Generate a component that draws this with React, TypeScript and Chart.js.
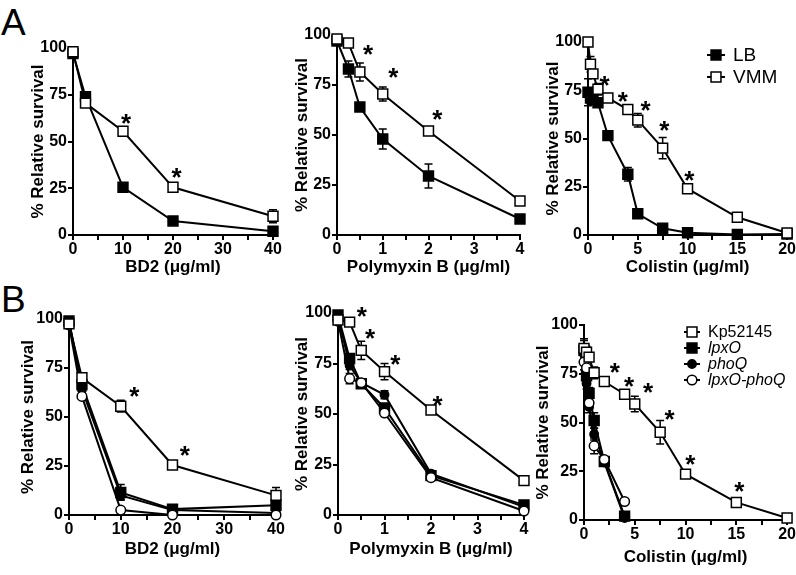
import React, { useEffect, useRef } from 'react';
import { Chart, registerables } from 'chart.js';
Chart.register(...registerables);

const FONT = '"Liberation Sans", Arial, Helvetica, sans-serif';

// ---------------- Panel A: LB vs VMM ----------------
const bd2ConcA = [0, 2.5, 10, 20, 40];
const bd2LB = [97, 74, 25.5, 7.5, 2];
const bd2LBErr = [0, 0, 1, 1, 0.5];
const bd2VMM = [98, 70.5, 55.5, 25.5, 10];
const bd2VMMErr = [0, 0, 2, 1, 3.5];
const bd2StarsA = [[10.6, 62], [20.7, 33]];

const pmbConcA = [0, 0.25, 0.5, 1, 2, 4];
const pmbLB = [97, 83, 64, 48, 29.5, 8];
const pmbLBErr = [0, 4, 1, 5, 6, 1];
const pmbVMM = [98, 96, 81.5, 70.5, 52, 17];
const pmbVMMErr = [0, 0, 4.5, 3.5, 1, 1];
const pmbStarsA = [[0.68, 92.5], [1.23, 80.8], [2.19, 60]];

const colConcA = [0, 0.25, 0.5, 1, 2, 4, 5, 7.5, 10, 15, 20];
const colLB = [74, 71, 70, 68.5, 51.5, 31.5, 11, 3.5, 1.2, 0.3, 0.5];
const colLBErr = [7, 3, 2, 2, 1, 3.5, 1, 1, 0.5, 0, 0];
const colVMM = [100, 88.5, 83.5, 75.5, 71, 65, 59.5, 45, 24, 9.2, 1];
const colVMMErr = [0, 4, 1, 3, 1, 1.5, 3.5, 5.5, 1.5, 1, 0.5];
const colStarsA = [[1.67, 80], [3.5, 71.3], [5.77, 67], [7.67, 56.5], [10.17, 30.4]];

// ---------------- Panel B: strains ----------------
const bd2ConcB = [0, 2.5, 10, 20, 40];
const bd2Kp = [97.5, 70, 55.5, 25.5, 10];
const bd2KpErr = [0, 1, 3, 1, 4];
const bd2LpxO = [99, 66.5, 11.5, 3, 5];
const bd2LpxOErr = [0, 2, 4, 1, 1];
const bd2PhoQ = [99, 64, 10, 2.5, 1];
const bd2PhoQErr = [0, 1, 2, 0.5, 0.5];
const bd2Dbl = [97, 60.5, 2.5, 0, 0];
const bd2DblErr = [0, 1, 1, 0, 0];
const bd2StarsB = [[12.6, 62.7], [22.4, 32.6]];

const pmbConcB = [0, 0.25, 0.5, 1, 2, 4];
const pmbKp = [96.5, 95.5, 81.5, 71, 52, 17];
const pmbKpErr = [0, 2, 4.5, 4, 1, 1];
const pmbLpxO = [99, 77.5, 65, 53, 19.5, 5];
const pmbLpxOErr = [0, 2, 1, 2, 1, 1];
const pmbPhoQ = [98.5, 74, 65.5, 59.5, 20.5, 4];
const pmbPhoQErr = [0, 2, 1, 2, 1, 0.5];
const pmbDbl = [96, 67.5, 65.5, 50.5, 18.5, 2];
const pmbDblErr = [0, 2.5, 0, 1, 0.5, 0];
const pmbStarsB = [[0.51, 100.6], [0.69, 89.4], [1.23, 76.7], [2.14, 56.4]];

const colConcKp = [0, 0.25, 0.5, 1, 2, 4, 5, 7.5, 10, 15, 20];
const colKp = [88, 86, 83.5, 75.5, 71, 64.5, 59.5, 45, 23.5, 9, 1];
const colKpErr = [5, 3, 2, 3, 1, 1, 4, 6, 1.5, 1, 0.5];
const colConcMut = [0, 0.25, 0.5, 1, 2, 4];
const colLpxO = [87, 74, 65, 51, 30, 2];
const colLpxOErr = [5, 3, 3, 4, 1, 1];
const colPhoQ = [85, 70, 58, 44, 29.5, 1];
const colPhoQErr = [4, 3, 3, 3, 1, 1];
const colDbl = [81, 78, 60, 38, 31, 9.5];
const colDblErr = [4, 3, 3, 4, 1, 1];
const colStarsB = [[3.04, 77.8], [4.44, 70.9], [6.3, 67.5], [8.43, 53.8], [10.46, 30.8], [15.3, 17.1]];

const yTicks = [0, 25, 50, 75, 100];

const TITLE_SIZE = 17;
const TITLE_HALF = (TITLE_SIZE * 1.2) / 2;

type Kind = 'sqOpen' | 'sqFill' | 'ciFill' | 'ciOpen';
const MARK: Record<Kind, { shape: string; r: number; fill: string }> = {
  sqOpen: { shape: 'rect', r: 7, fill: '#ffffff' },
  sqFill: { shape: 'rect', r: 7, fill: '#000000' },
  ciFill: { shape: 'circle', r: 4.2, fill: '#000000' },
  ciOpen: { shape: 'circle', r: 4.8, fill: '#ffffff' },
};

type Series = { label: string; xs: number[]; ys: number[]; err: number[]; kind: Kind; order: number; italic?: boolean };
type Legend = { x: number; y: number; dy: number; tx: number; half: number; size: number };
type Panel = {
  id: string; ax: number; bx: number; ty: number; by: number; ytx: number; xty: number; padR: number;
  xMax: number; xStep: number; xLabelEvery: number; xTitle: string;
  series: Series[]; stars: number[][]; legend?: Legend;
};

const seriesA = (xs: number[], lb: number[], lbE: number[], vmm: number[], vmmE: number[]): Series[] => [
  { label: 'LB', xs, ys: lb, err: lbE, kind: 'sqFill', order: 1 },
  { label: 'VMM', xs, ys: vmm, err: vmmE, kind: 'sqOpen', order: 0 },
];
const seriesB = (xk: number[], xm: number[], kp: number[], kpE: number[], a: number[], aE: number[], b: number[], bE: number[], c: number[], cE: number[]): Series[] => [
  { label: 'Kp52145', xs: xk, ys: kp, err: kpE, kind: 'sqOpen', order: 0 },
  { label: 'lpxO', xs: xm, ys: a, err: aE, kind: 'sqFill', order: 3, italic: true },
  { label: 'phoQ', xs: xm, ys: b, err: bE, kind: 'ciFill', order: 2, italic: true },
  { label: 'lpxO-phoQ', xs: xm, ys: c, err: cE, kind: 'ciOpen', order: 1, italic: true },
];

const UG = 'BD2 (\u03bcg/ml)';
const panels: Panel[] = [
  { id: 'a1', ax: 73, bx: 273, ty: 48, by: 235, ytx: 38, xty: 268, padR: 12, xMax: 40, xStep: 5, xLabelEvery: 10, xTitle: UG,
    series: seriesA(bd2ConcA, bd2LB, bd2LBErr, bd2VMM, bd2VMMErr), stars: bd2StarsA },
  { id: 'a2', ax: 337, bx: 520, ty: 35, by: 235, ytx: 302, xty: 268, padR: 12, xMax: 4, xStep: 0.5, xLabelEvery: 1, xTitle: 'Polymyxin B (\u03bcg/ml)',
    series: seriesA(pmbConcA, pmbLB, pmbLBErr, pmbVMM, pmbVMMErr), stars: pmbStarsA },
  { id: 'a3', ax: 588, bx: 788, ty: 42, by: 235, ytx: 553, xty: 268, padR: 8, xMax: 20, xStep: 2.5, xLabelEvery: 5, xTitle: 'Colistin (\u03bcg/ml)',
    series: seriesA(colConcA, colLB, colLBErr, colVMM, colVMMErr), stars: colStarsA,
    legend: { x: 716, y: 55, dy: 22, tx: 733, half: 9, size: 19 } },
  { id: 'b1', ax: 69, bx: 276, ty: 319, by: 515, ytx: 28, xty: 550, padR: 12, xMax: 40, xStep: 5, xLabelEvery: 10, xTitle: UG,
    series: seriesB(bd2ConcB, bd2ConcB, bd2Kp, bd2KpErr, bd2LpxO, bd2LpxOErr, bd2PhoQ, bd2PhoQErr, bd2Dbl, bd2DblErr), stars: bd2StarsB },
  { id: 'b2', ax: 338, bx: 524, ty: 313, by: 515, ytx: 302, xty: 550, padR: 10, xMax: 4, xStep: 0.5, xLabelEvery: 1, xTitle: 'Polymyxin B (\u03bcg/ml)',
    series: seriesB(pmbConcB, pmbConcB, pmbKp, pmbKpErr, pmbLpxO, pmbLpxOErr, pmbPhoQ, pmbPhoQErr, pmbDbl, pmbDblErr), stars: pmbStarsB },
  { id: 'b3', ax: 584, bx: 788, ty: 325, by: 520, ytx: 543, xty: 558, padR: 8, xMax: 20, xStep: 2.5, xLabelEvery: 5, xTitle: 'Colistin (\u03bcg/ml)',
    series: seriesB(colConcKp, colConcMut, colKp, colKpErr, colLpxO, colLpxOErr, colPhoQ, colPhoQErr, colDbl, colDblErr), stars: colStarsB,
    legend: { x: 692, y: 332, dy: 16, tx: 708, half: 8, size: 16 } },
];

function geom(p: Panel) {
  const cl = Math.round(p.ytx - TITLE_HALF);
  const ct = p.ty - 14;
  const cw = p.bx + p.padR - cl;
  const ch = Math.round(p.xty + TITLE_HALF) - ct;
  const wy = p.ax - cl;
  const hx = ch - (p.by - ct);
  return { cl, ct, cw, ch, wy, hx };
}

function drawMarker(ctx: CanvasRenderingContext2D, kind: Kind, x: number, y: number) {
  const m = MARK[kind];
  ctx.beginPath();
  if (m.shape === 'rect') {
    const h = Math.SQRT1_2 * m.r;
    ctx.rect(x - h, y - h, 2 * h, 2 * h);
  } else {
    ctx.arc(x, y, m.r, 0, Math.PI * 2);
  }
  ctx.fillStyle = m.fill;
  ctx.fill();
  ctx.lineWidth = 1.5;
  ctx.strokeStyle = '#000';
  ctx.stroke();
}

const errorBarPlugin = {
  id: 'errbars',
  beforeDatasetsDraw(chart: any) {
    const { ctx, scales } = chart;
    const x = scales.x, y = scales.y;
    ctx.save();
    ctx.strokeStyle = '#000';
    ctx.lineWidth = 1.5;
    chart.data.datasets.forEach((ds: any) => {
      const errs: number[] = ds.errors || [];
      ds.data.forEach((pt: any, i: number) => {
        const e = errs[i];
        if (!e) return;
        const px = x.getPixelForValue(pt.x);
        const y1 = y.getPixelForValue(pt.y + e);
        const y2 = y.getPixelForValue(Math.max(0, pt.y - e));
        ctx.beginPath();
        ctx.moveTo(px, y1); ctx.lineTo(px, y2);
        ctx.moveTo(px - 4, y1); ctx.lineTo(px + 4, y1);
        ctx.moveTo(px - 4, y2); ctx.lineTo(px + 4, y2);
        ctx.stroke();
      });
    });
    ctx.restore();
  },
};

function starPlugin(stars: number[][]) {
  return {
    id: 'stars',
    afterDatasetsDraw(chart: any) {
      const { ctx, scales } = chart;
      ctx.save();
      ctx.font = `bold 26px ${FONT}`;
      ctx.textAlign = 'center';
      ctx.textBaseline = 'alphabetic';
      ctx.fillStyle = '#000';
      const m = ctx.measureText('*');
      const off = (m.actualBoundingBoxAscent - m.actualBoundingBoxDescent) / 2;
      stars.forEach(([sx, sy]) => {
        ctx.fillText('*', scales.x.getPixelForValue(sx), scales.y.getPixelForValue(sy) + off);
      });
      ctx.restore();
    },
  };
}

function legendPlugin(series: Series[], lg: Legend, cl: number, ct: number) {
  return {
    id: 'customLegend',
    afterDraw(chart: any) {
      const ctx: CanvasRenderingContext2D = chart.ctx;
      ctx.save();
      series.forEach((s, i) => {
        const x = lg.x - cl;
        const y = lg.y + i * lg.dy - ct;
        ctx.beginPath();
        ctx.moveTo(x - lg.half, y);
        ctx.lineTo(x + lg.half, y);
        ctx.lineWidth = 2;
        ctx.strokeStyle = '#000';
        ctx.stroke();
        drawMarker(ctx, s.kind, x, y);
        ctx.font = `${s.italic ? 'italic ' : ''}${lg.size}px ${FONT}`;
        ctx.fillStyle = '#000';
        ctx.textAlign = 'left';
        ctx.textBaseline = 'middle';
        ctx.fillText(s.label, lg.tx - cl, y + 1);
      });
      ctx.restore();
    },
  };
}

function PanelChart({ p }: { p: Panel }) {
  const ref = useRef<HTMLCanvasElement>(null);
  const g = geom(p);
  useEffect(() => {
    const datasets = p.series.map((s) => ({
      label: s.label,
      data: s.xs.map((x, j) => ({ x, y: s.ys[j] })),
      errors: s.err,
      borderColor: '#000',
      borderWidth: 2,
      pointStyle: MARK[s.kind].shape,
      pointRadius: MARK[s.kind].r,
      pointBackgroundColor: MARK[s.kind].fill,
      pointBorderColor: '#000',
      pointBorderWidth: 1.5,
      fill: false,
      tension: 0,
      clip: false,
      order: s.order,
    }));
    const tickFont = { family: FONT, size: 16, weight: 'bold' as const };
    const titleFont = { family: FONT, size: TITLE_SIZE, weight: 'bold' as const };
    const plugins: any[] = [errorBarPlugin, starPlugin(p.stars)];
    if (p.legend) plugins.push(legendPlugin(p.series, p.legend, g.cl, g.ct));
    const chart = new Chart(ref.current!, {
      type: 'line',
      data: { datasets: datasets as any },
      options: {
        animation: false,
        responsive: false,
        maintainAspectRatio: false,
        events: [],
        layout: { padding: { left: 0, top: 14, right: p.padR, bottom: 0 } },
        plugins: { legend: { display: false }, tooltip: { enabled: false } },
        scales: {
          x: {
            type: 'linear',
            min: 0,
            max: p.xMax,
            ticks: {
              stepSize: p.xStep,
              autoSkip: false,
              maxRotation: 0,
              padding: 0,
              color: '#000',
              font: tickFont,
              callback: (v: any) => {
                const r = Number(v) / p.xLabelEvery;
                return Math.abs(r - Math.round(r)) < 1e-6 ? String(Number(v)) : '';
              },
            },
            grid: { display: true, drawOnChartArea: false, drawTicks: true, tickLength: 5, color: '#000', lineWidth: 2 },
            border: { display: true, color: '#000', width: 2 },
            title: { display: true, text: p.xTitle, color: '#000', font: titleFont, padding: 0 },
            afterFit: (s: any) => { s.height = g.hx; },
          },
          y: {
            type: 'linear',
            min: 0,
            max: 100,
            afterBuildTicks: (s: any) => { s.ticks = yTicks.map((v) => ({ value: v })); },
            ticks: { padding: 1, color: '#000', font: tickFont },
            grid: { display: true, drawOnChartArea: false, drawTicks: true, tickLength: 5, color: '#000', lineWidth: 2 },
            border: { display: true, color: '#000', width: 2 },
            title: { display: true, text: '% Relative survival', color: '#000', font: titleFont, padding: 0 },
            afterFit: (s: any) => { s.width = g.wy; },
          },
        },
      } as any,
      plugins,
    });
    return () => chart.destroy();
  }, []);
  return (
    <canvas
      ref={ref}
      width={g.cw}
      height={g.ch}
      style={{ position: 'absolute', left: g.cl, top: g.ct, width: g.cw, height: g.ch }}
    />
  );
}

export default function App() {
  const labelStyle: React.CSSProperties = {
    position: 'absolute',
    fontFamily: FONT,
    fontSize: 37,
    lineHeight: '37px',
    color: '#000',
  };
  return (
    <div style={{ position: 'absolute', left: 0, top: 0, width: 796, height: 575, background: '#fff', overflow: 'hidden' }}>
      <div style={{ ...labelStyle, left: 1, top: 4 }}>A</div>
      <div style={{ ...labelStyle, left: 1, top: 281 }}>B</div>
      {panels.map((p) => (
        <PanelChart key={p.id} p={p} />
      ))}
    </div>
  );
}
